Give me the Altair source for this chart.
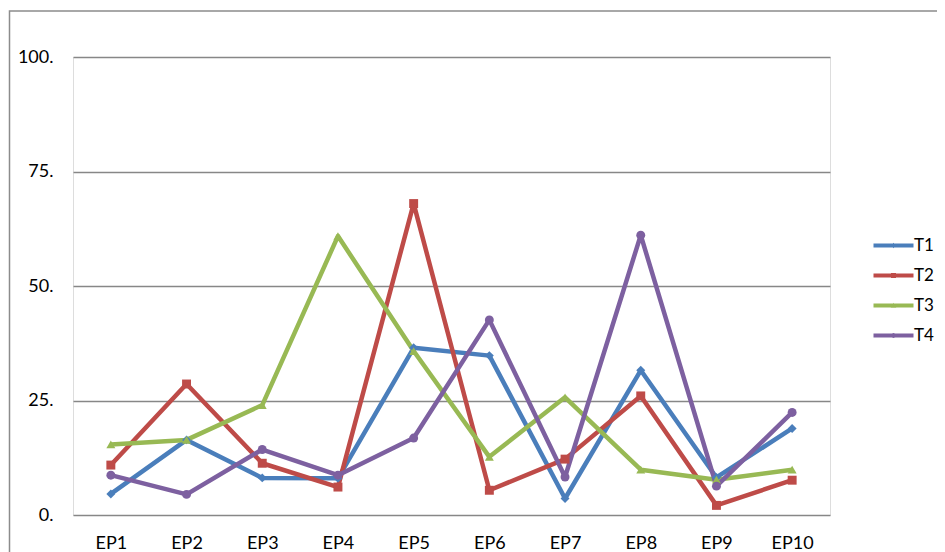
import altair as alt
import pandas as pd

episodes = ["EP1", "EP2", "EP3", "EP4", "EP5", "EP6", "EP7", "EP8", "EP9", "EP10"]
series_names = ["T1", "T2", "T3", "T4"]
t1 = [4.6, 16.4, 8.1, 8.0, 36.5, 34.8, 3.6, 31.6, 8.2, 18.9]
t2 = [10.9, 28.6, 11.3, 6.1, 68.0, 5.4, 12.2, 26.0, 2.1, 7.6]
t3 = [15.4, 16.4, 24.0, 60.9, 35.8, 12.7, 25.7, 9.9, 7.7, 9.9]
t4 = [8.7, 4.5, 14.3, 8.7, 16.8, 42.6, 8.3, 61.1, 6.3, 22.4]
y_ticks = [0, 25, 50, 75, 100]

colors = ["#4A7EBB", "#BE4B48", "#98B954", "#7D60A0"]
marker_shapes = ["diamond", "square", "triangle-up", "circle"]
bar = "M-4,-0.4H4V0.4H-4Z"
legend_shapes = [
    bar + "M0,-0.55L0.45,0L0,0.55L-0.45,0Z",
    bar + "M-0.5,-0.5H0.5V0.5H-0.5Z",
    bar + "M0,-0.55L0.55,0.45L-0.55,0.45Z",
    bar + "M0.5,0A0.5,0.5 0 1,1 -0.5,0A0.5,0.5 0 1,1 0.5,0Z",
]

rows = []
for name, vals in zip(series_names, [t1, t2, t3, t4]):
    for ep, v in zip(episodes, vals):
        rows.append({"episode": ep, "series": name, "value": v})
df = pd.DataFrame(rows)

FONT = "Lato"
FS = 18

x_enc = alt.X("episode:N", sort=episodes, title=None,
              scale=alt.Scale(type="point", padding=0.5),
              axis=alt.Axis(domain=False, ticks=False, labelPadding=19,
                            labelFontSize=FS, labelFont=FONT, labelColor="#000",
                            labelAngle=0, grid=False))
y_enc = alt.Y("value:Q", title=None,
              scale=alt.Scale(domain=[0, 100], nice=False, zero=True),
              axis=alt.Axis(values=y_ticks, labelExpr="datum.value + '.'",
                            domain=False, ticks=False, labelPadding=20,
                            labelFontSize=FS, labelFont=FONT, labelColor="#000",
                            grid=True, gridColor="#878787", gridWidth=1.4))


def cscale():
    return alt.Scale(domain=series_names, range=colors)


base = alt.Chart(df)

lines = base.mark_line(strokeWidth=4.5, strokeJoin="round").encode(
    x=x_enc, y=y_enc,
    color=alt.Color("series:N", scale=cscale(), legend=None),
)

points = base.mark_point(filled=True, size=80, opacity=1).encode(
    x=x_enc, y=y_enc,
    color=alt.Color("series:N", scale=cscale(), legend=None),
    shape=alt.Shape("series:N", scale=alt.Scale(domain=series_names, range=marker_shapes), legend=None),
)

legend_cfg = dict(orient="none", legendX=812, legendY=180, title=None,
                  symbolSize=100, labelOffset=12, labelFontSize=17, labelFont=FONT,
                  labelColor="#000", rowPadding=12, padding=0, symbolStrokeWidth=0)

legend_layer = base.transform_filter("false").mark_point(filled=True, opacity=1).encode(
    x=x_enc, y=y_enc,
    color=alt.Color("series:N", scale=cscale(), legend=alt.Legend(**legend_cfg)),
    shape=alt.Shape("series:N", scale=alt.Scale(domain=series_names, range=legend_shapes),
                    legend=alt.Legend(**legend_cfg)),
)

frame = alt.Chart(alt.Data(values=[{"a": 1}])).mark_rect(
    filled=False, stroke="#8C8C8C", strokeWidth=1.5
).encode(
    x=alt.value(-63.5), x2=alt.value(920), y=alt.value(-46), y2=alt.value(540)
)

chart = alt.layer(frame, lines, points, legend_layer).resolve_scale(
    shape="independent", color="independent"
).properties(
    width=757, height=458,
    autosize=alt.AutoSizeParams(type="none"),
    padding={"left": 65, "top": 49, "right": 107, "bottom": 37},
).configure_view(stroke=None).configure(background="white")

chart.save("out.html", embed_options={"renderer": "svg", "actions": False})
